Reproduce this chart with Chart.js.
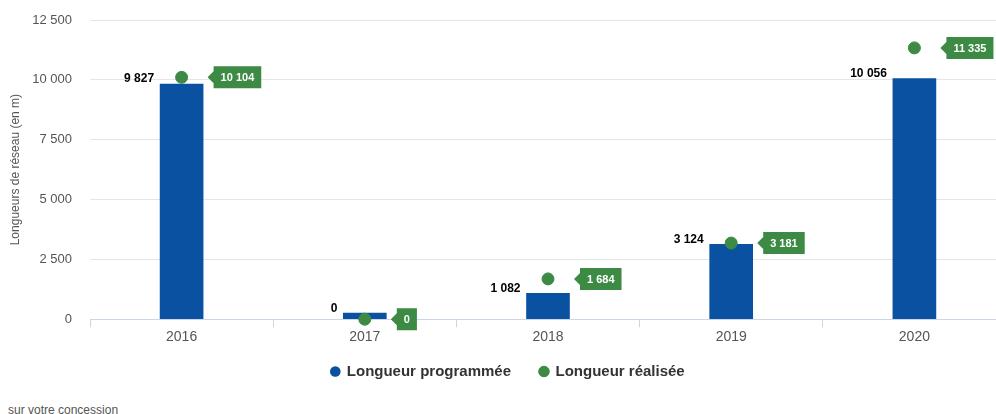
<!DOCTYPE html>
<html lang="fr">
<head>
  <meta charset="UTF-8" />
  <title>Longueurs de réseau</title>
  <script src="https://cdn.jsdelivr.net/npm/chart.js"></script>
  <style>
    body { margin: 0; width: 996px; height: 414px; overflow: hidden; background: #fff; font-family: "Liberation Sans", Arial, sans-serif; }
    #wrap { position: relative; width: 1006px; height: 402px; }
    #note { position: absolute; left: 8px; top: 403px; font-size: 12px; color: #555; }
  </style>
</head>
<body>
  <div id="wrap"><canvas id="chart"></canvas></div>
  <div id="note">sur votre concession</div>

  <script>
    // data
    const years = ["2016", "2017", "2018", "2019", "2020"];
    const programmee = [9827, 0, 1082, 3124, 10056];
    const realisee = [10104, 0, 1684, 3181, 11335];
    const yTicks = [0, 2500, 5000, 7500, 10000, 12500];

    const blue = "#0a51a1";
    const green = "#3d8a45";

    function fmt(v) {
      return String(v).replace(/\B(?=(\d{3})+(?!\d))/g, " ");
    }

    // value labels: black text left of bars, green tags right of points
    const labelPlugin = {
      id: "labels",
      afterDatasetsDraw(chart) {
        const ctx = chart.ctx;
        ctx.save();
        const bars = chart.getDatasetMeta(0).data;
        ctx.font = "bold 12px 'Liberation Sans', Arial, sans-serif";
        ctx.fillStyle = "#000";
        ctx.textAlign = "right";
        ctx.textBaseline = "middle";
        bars.forEach((b, i) => {
          ctx.fillText(fmt(programmee[i]), b.x - b.width / 2 - 6, b.y - 5);
        });

        const pts = chart.getDatasetMeta(1).data;
        ctx.font = "bold 11px 'Liberation Sans', Arial, sans-serif";
        ctx.textAlign = "left";
        pts.forEach((p, i) => {
          const txt = fmt(realisee[i]);
          const w = ctx.measureText(txt).width + 14;
          const tip = p.x + 26;
          const x0 = tip + 6;
          const h = 22;
          ctx.fillStyle = green;
          ctx.beginPath();
          ctx.moveTo(tip, p.y);
          ctx.lineTo(x0, p.y - 6);
          ctx.lineTo(x0, p.y - h / 2);
          ctx.lineTo(x0 + w, p.y - h / 2);
          ctx.lineTo(x0 + w, p.y + h / 2);
          ctx.lineTo(x0, p.y + h / 2);
          ctx.lineTo(x0, p.y + 6);
          ctx.closePath();
          ctx.fill();
          ctx.fillStyle = "#fff";
          ctx.fillText(txt, x0 + 7, p.y + 1);
        });
        ctx.restore();
      }
    };

    // pull the legend a bit closer to the axis labels
    const legendShift = {
      id: "legendShift",
      beforeDraw(chart) {
        const lg = chart.legend;
        if (lg && !lg._shifted) {
          const orig = lg.draw.bind(lg);
          lg.draw = function () {
            chart.ctx.save();
            chart.ctx.translate(5, -13);
            orig();
            chart.ctx.restore();
          };
          lg._shifted = true;
        }
      }
    };

    new Chart(document.getElementById("chart"), {
      type: "bar",
      data: {
        labels: years,
        datasets: [
          {
            label: "Longueur programmée",
            data: programmee,
            backgroundColor: blue,
            barThickness: 43,
            minBarLength: 6,
            order: 2
          },
          {
            type: "line",
            label: "Longueur réalisée",
            data: realisee,
            showLine: false,
            clip: false,
            pointRadius: 6,
            pointHoverRadius: 6,
            pointBackgroundColor: green,
            pointBorderColor: green,
            backgroundColor: green,
            order: 1
          }
        ]
      },
      options: {
        responsive: true,
        maintainAspectRatio: false,
        animation: false,
        layout: { autoPadding: false, padding: { top: 20, right: 0, left: 0, bottom: 0 } },
        plugins: {
          tooltip: { enabled: false },
          legend: {
            position: "bottom",
            labels: {
              sort: (a, b) => a.datasetIndex - b.datasetIndex,
              usePointStyle: true,
              pointStyle: "circle",
              boxWidth: 8,
              boxHeight: 7.5,
              padding: 29,
              color: "#333",
              font: { family: "'Liberation Sans', Arial, sans-serif", size: 15, weight: "bold" }
            }
          }
        },
        scales: {
          x: {
            offset: true,
            grid: { offset: true, drawOnChartArea: false, tickLength: 8, color: "#ccd6eb" },
            border: { color: "#ccd6eb" },
            ticks: { color: "#555", padding: 2, font: { family: "'Liberation Sans', Arial, sans-serif", size: 14 } }
          },
          y: {
            min: 0,
            max: 12500,
            afterBuildTicks(axis) { axis.ticks = yTicks.map(v => ({ value: v })); },
            afterFit(axis) { axis.width = 90; axis.paddingTop = 0; axis.paddingBottom = 0; },
            grid: { color: "#e6e6e6", drawTicks: false },
            border: { display: false },
            ticks: {
              color: "#555",
              padding: 18,
              font: { family: "'Liberation Sans', Arial, sans-serif", size: 13 },
              callback: v => fmt(v)
            },
            title: {
              display: true,
              text: "Longueurs de réseau (en m)",
              color: "#555",
              padding: { top: 8, bottom: 0 },
              font: { family: "'Liberation Sans', Arial, sans-serif", size: 12 }
            }
          }
        }
      },
      plugins: [labelPlugin, legendShift]
    });
  </script>
</body>
</html>
